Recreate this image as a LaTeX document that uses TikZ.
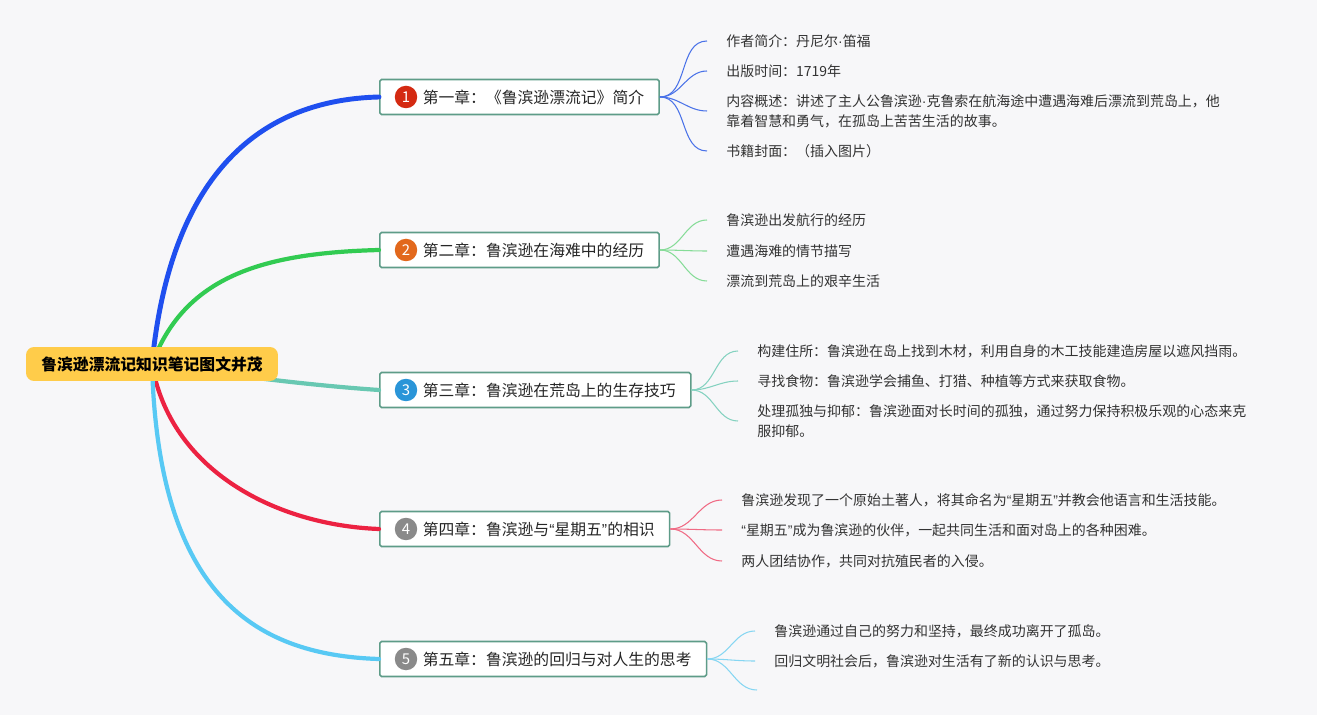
\documentclass[tikz,border=0pt]{standalone}
\usepackage{fontspec}
\setmainfont{Noto Sans CJK SC}
\newfontfamily\latinf{Liberation Sans}
\usepackage{tikz}
\usetikzlibrary{positioning,calc}

\definecolor{bgcol}{HTML}{F7F7F9}
\definecolor{rootcol}{HTML}{FFCC4A}
\definecolor{boxline}{HTML}{5E9C88}
\definecolor{brA}{HTML}{1F4FEF}
\definecolor{brB}{HTML}{32CB52}
\definecolor{brC}{HTML}{68C8B2}
\definecolor{brD}{HTML}{EC2242}
\definecolor{brE}{HTML}{58C9F4}
\definecolor{lfA}{HTML}{4A72E8}
\definecolor{lfB}{HTML}{86DC98}
\definecolor{lfC}{HTML}{84D2C0}
\definecolor{lfD}{HTML}{F06A84}
\definecolor{lfE}{HTML}{86D6F2}
\definecolor{numA}{HTML}{D42A12}
\definecolor{numB}{HTML}{E2681C}
\definecolor{numC}{HTML}{2A95D8}
\definecolor{numD}{HTML}{8A8A8A}

\newcommand{\middot}{{\latinf ·}}
\newcommand{\oquote}{{\latinf “}}
\newcommand{\cquote}{{\latinf ”}}

\begin{document}
\begin{tikzpicture}[
    x=0.02cm, y=-0.02cm,
    root/.style={
        fill=rootcol,
        rounded corners=0.16cm,
        minimum width=5.04cm,
        minimum height=0.68cm,
        font=\fontsize{9}{11}\selectfont\bfseries
    },
    chap/.style={
        draw=boxline,
        line width=0.9pt,
        fill=white,
        rounded corners=1pt,
        anchor=west,
        minimum height=0.7cm,
        inner xsep=0.3cm,
        text=black!85,
        font=\fontsize{9}{11}\selectfont
    },
    num/.style={
        circle,
        inner sep=0pt,
        minimum size=0.45cm,
        text=white,
        font=\fontsize{8.5}{10}\selectfont
    },
    leaf/.style={
        anchor=west,
        align=left,
        inner xsep=0.38cm,
        inner ysep=0pt,
        text=black!80,
        font=\fontsize{7.95}{11.3}\selectfont
    },
    branch/.style={line width=2.4pt, line cap=round},
    twig/.style={line width=0.6pt}
]

\useasboundingbox[fill=bgcol] (0,0) rectangle (1317,715);

% chapters
\node[chap] (c1) at (379,97) {\hspace*{0.56cm}第一章：《鲁滨逊漂流记》简介};
\node[chap] (c2) at (379,250) {\hspace*{0.56cm}第二章：鲁滨逊在海难中的经历};
\node[chap] (c3) at (379,390) {\hspace*{0.56cm}第三章：鲁滨逊在荒岛上的生存技巧};
\node[chap] (c4) at (379,529) {\hspace*{0.56cm}第四章：鲁滨逊与\oquote 星期五\cquote 的相识};
\node[chap] (c5) at (379,659) {\hspace*{0.56cm}第五章：鲁滨逊的回归与对人生的思考};

\node[num, fill=numA] (n1) at ([xshift=0.54cm]c1.west) {1};
\node[num, fill=numB] (n2) at ([xshift=0.54cm]c2.west) {2};
\node[num, fill=numC] (n3) at ([xshift=0.54cm]c3.west) {3};
\node[num, fill=numD] (n4) at ([xshift=0.54cm]c4.west) {4};
\node[num, fill=numD] (n5) at ([xshift=0.54cm]c5.west) {5};

% main branches, drawn under the root
\coordinate (rc) at (152,364);
\draw[branch, brA, line width=2.8pt] (rc) .. controls (170,180) and (255,100) .. (c1.west);
\draw[branch, brB] (rc) .. controls (185,275) and (265,253) .. (c2.west);
\draw[branch, brC] (rc) .. controls (250,378) and (320,386) .. (c3.west);
\draw[branch, brD] (rc) .. controls (170,470) and (275,525) .. (c4.west);
\draw[branch, brE] (rc) .. controls (158,590) and (250,655) .. (c5.west);

\node[root] (root) at (rc) {鲁滨逊漂流记知识笔记图文并茂};

% leaves of chapter 1
\node[leaf] (l11) at (707,41) {作者简介：丹尼尔\middot 笛福};
\node[leaf] (l12) at (707,71) {出版时间：1719年};
\node[leaf] (l13) at (707,111) {内容概述：讲述了主人公鲁滨逊\middot 克鲁索在航海途中遭遇海难后漂流到荒岛上，他\\靠着智慧和勇气，在孤岛上苦苦生活的故事。};
\node[leaf] (l14) at (707,151) {书籍封面：（插入图片）};

% leaves of chapter 2
\node[leaf] (l21) at (707,220) {鲁滨逊出发航行的经历};
\node[leaf] (l22) at (707,251) {遭遇海难的情节描写};
\node[leaf] (l23) at (707,281) {漂流到荒岛上的艰辛生活};

% leaves of chapter 3
\node[leaf] (l31) at (738,351) {构建住所：鲁滨逊在岛上找到木材，利用自身的木工技能建造房屋以遮风挡雨。};
\node[leaf] (l32) at (738,381) {寻找食物：鲁滨逊学会捕鱼、打猎、种植等方式来获取食物。};
\node[leaf] (l33) at (738,421) {处理孤独与抑郁：鲁滨逊面对长时间的孤独，通过努力保持积极乐观的心态来克\\服抑郁。};

% leaves of chapter 4
\node[leaf] (l41) at (722,500) {鲁滨逊发现了一个原始土著人，将其命名为\oquote 星期五\cquote 并教会他语言和生活技能。};
\node[leaf] (l42) at (722,530) {\oquote 星期五\cquote 成为鲁滨逊的伙伴，一起共同生活和面对岛上的各种困难。};
\node[leaf] (l43) at (722,561) {两人团结协作，共同对抗殖民者的入侵。};

% leaves of chapter 5
\node[leaf] (l51) at (755,631) {鲁滨逊通过自己的努力和坚持，最终成功离开了孤岛。};
\node[leaf] (l52) at (755,661) {回归文明社会后，鲁滨逊对生活有了新的认识与思考。};
\coordinate (l53) at (757,690);

\foreach \i in {1,...,4}
    \draw[twig, lfA] (c1.east) to[out=0, in=180] (l1\i.west);
\foreach \i in {1,...,3}
    \draw[twig, lfB] (c2.east) to[out=0, in=180] (l2\i.west);
\foreach \i in {1,...,3}
    \draw[twig, lfC] (c3.east) to[out=0, in=180] (l3\i.west);
\foreach \i in {1,...,3}
    \draw[twig, lfD] (c4.east) to[out=0, in=180] (l4\i.west);
\foreach \i in {1,2}
    \draw[twig, lfE] (c5.east) to[out=0, in=180] (l5\i.west);
\draw[twig, lfE] (c5.east) to[out=0, in=180] (l53);

\end{tikzpicture}
\end{document}
